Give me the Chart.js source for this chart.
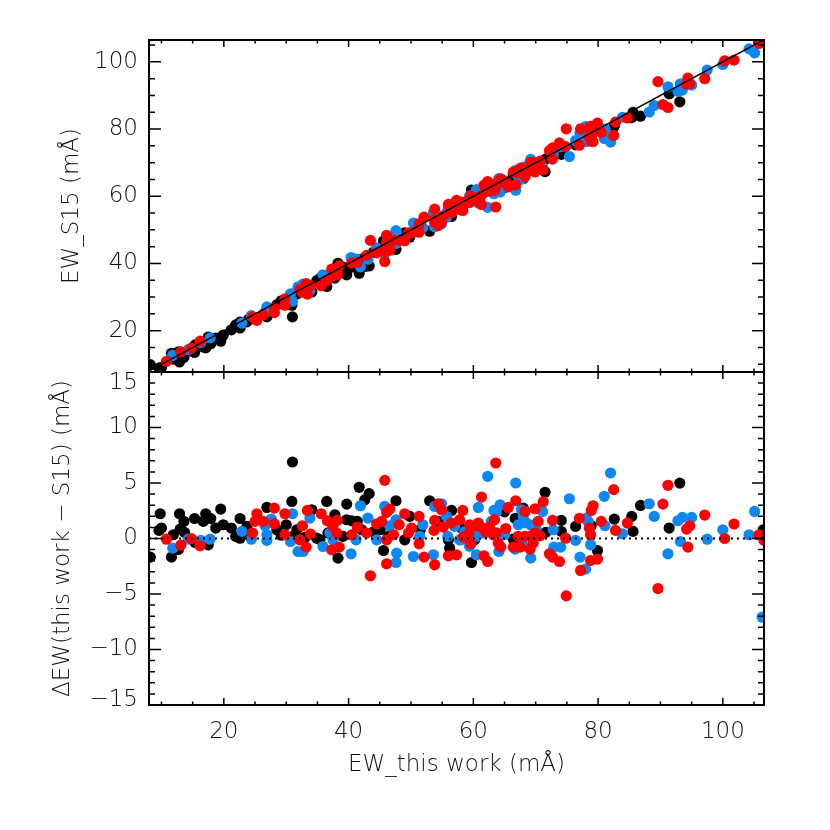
<!DOCTYPE html>
<html>
<head>
<meta charset="utf-8">
<script src="https://cdn.jsdelivr.net/npm/chart.js@4.4.1/dist/chart.umd.min.js"></script>
<style>
  html, body { margin: 0; padding: 0; background: #fff; }
  #wrap { position: relative; width: 830px; height: 830px; }
  #wrap canvas { position: absolute; left: 0; top: 0; }
</style>
</head>
<body>
<div id="wrap">
  <canvas id="top-panel" width="830" height="830"></canvas>
  <canvas id="bottom-panel" width="830" height="830"></canvas>
</div>
<script>
// ── Data: EW from this work and ΔEW (this work − S15), per sample ─────────────
const blackEW = [8.2, 9.8, 9.6, 10.0, 11.9, 11.6, 12.7, 12.9, 13.6, 13.0, 13.7, 15.3, 15.4, 17.1, 16.7, 17.9,
    17.5, 19.5, 18.7, 19.9, 21.2, 21.9, 22.6, 22.6, 23.7, 24.0, 26.9, 28.5, 29.2, 30.0, 31.0, 30.9, 31.7,
    31.1, 33.0, 34.1, 34.9, 36.5, 35.4, 36.7, 37.8, 39.7, 39.7, 38.3, 39.1, 40.5, 41.7, 43.3, 42.6, 41.4,
    42.1, 44.0, 45.1, 45.6, 46.4, 47.6, 49.0, 49.8, 51.5, 53.0, 54.4, 56.5, 56.0, 56.2, 58.1, 58.9, 59.7,
    60.2, 65.0, 66.4, 66.7, 68.0, 71.5, 71.6, 74.1, 74.1, 76.4, 78.9, 79.9, 82.6, 85.4, 85.6, 86.8, 91.4,
    93.1, 106.5];
const blackDiff = [-1.68, 2.23, 0.73, 0.94, 0.34, -1.68, -1.0, 2.23, 1.54, 0.85, 0.55, 1.8, -0.36, 2.23, 1.54, 1.8,
    -0.57, 2.65, 0.94, 1.24, 0.94, 0.19, 0.03, 1.8, 1.09, 0.55, 2.8, 0.79, 0.3, 1.24, 6.89, 3.34, 0.79,
    0.19, 0.1, 2.59, 0.03, 3.34, -0.1, 0.5, 2.14, 3.1, 1.69, -1.77, 0.19, 1.6, 4.61, 4.04, 3.49, 1.54,
    0.79, 0.6, 0.79, -1.08, 0.19, 3.4, -0.12, 1.99, 0.8, 3.4, 1.54, 2.53, -0.12, -0.87, 0.94, 0.79, -2.16,
    -0.12, 2.4, -0.06, 1.81, 2.74, 4.16, 0.55, 1.63, 0.64, 1.09, 1.15, -1.08, 1.75, 1.99, 0.64, 2.98, 0.94,
    4.99, 0.79];

const blueEW = [11.8, 14.3, 16.3, 17.8, 22.9, 24.4, 26.9, 26.9, 26.6, 27.6, 31.0, 30.7, 31.9, 32.7, 33.8, 35.9,
    37.0, 37.5, 40.4, 41.2, 41.9, 43.1, 44.5, 45.8, 46.6, 47.6, 47.6, 47.7, 50.4, 51.4, 51.9, 53.6, 53.8,
    54.9, 55.7, 55.9, 57.0, 57.8, 58.1, 58.6, 59.4, 60.5, 60.8, 60.8, 60.5, 61.3, 61.8, 62.3, 62.9, 63.3,
    63.7, 64.3, 64.1, 65.0, 66.7, 66.8, 67.2, 67.7, 68.0, 68.0, 68.5, 69.3, 70.1, 71.1, 69.2, 72.8, 72.9,
    74.0, 75.4, 76.4, 77.1, 78.1, 78.4, 78.8, 78.0, 81.0, 81.1, 82.0, 83.9, 88.2, 89.0, 91.2, 92.8, 93.2,
    93.5, 95.0, 97.5, 100.0, 104.2, 105.1, 106.3];
const blueDiff = [-0.87, -0.06, -0.17, -0.06, 0.64, -0.06, 0.34, -0.17, 1.15, 1.75, 2.23, -0.27, -1.17, -1.17, 1.84, -0.72,
    0.49, -0.12, -1.38, -0.12, 2.95, 1.84, -0.12, 2.89, 1.15, 1.69, -2.16, -1.32, -1.62, 0.2, 1.24, -1.47, 2.89,
    3.13, 1.99, 0.19, 1.1, -0.12, -0.1, 0.6, -0.7, 0.2, 1.0, 2.8, -1.47, 0.5, 0.5, 5.6, 1.55, 2.53,
    2.4, 3.04, -1.17, 0.34, -0.96, 5.0, 1.24, 2.59, 1.99, -0.66, 1.4, 1.2, 0.8, 2.44, -1.77, 0.79, -0.78,
    -0.78, 3.58, -0.17, -1.68, 1.84, 1.54, -0.57, -2.76, 3.8, 1.15, 5.9, 0.43, 3.13, 1.99, -1.38, 1.6, -0.27,
    1.9, 1.9, -0.06, 0.79, 0.34, 2.44, -7.09];

const redEW = [10.8, 13.1, 14.8, 16.2, 24.6, 25.3, 25.0, 26.3, 28.1, 28.1, 29.8, 29.8, 32.6, 32.2, 33.2, 33.9,
    33.4, 35.6, 36.6, 37.5, 38.2, 38.1, 37.3, 38.5, 40.5, 41.4, 42.9, 43.5, 44.5, 45.3, 45.8, 46.1, 46.6,
    46.1, 46.1, 47.2, 48.1, 49.0, 50.1, 49.6, 51.3, 51.3, 52.1, 53.8, 54.4, 54.9, 53.8, 53.7, 55.2, 56.0,
    57.3, 56.5, 57.8, 58.3, 58.4, 59.4, 59.3, 60.0, 60.8, 59.6, 61.3, 61.3, 61.7, 62.0, 62.3, 62.6, 63.2,
    63.4, 63.6, 63.7, 64.0, 64.4, 65.2, 65.6, 66.8, 66.4, 67.5, 67.2, 68.3, 68.3, 69.9, 71.2, 70.4, 72.7,
    69.1, 69.9, 70.7, 69.6, 69.1, 72.2, 72.7, 73.8, 74.8, 74.9, 77.0, 77.2, 78.8, 79.9, 78.9, 79.2, 78.6,
    78.8, 80.5, 82.5, 82.8, 84.7, 89.6, 90.4, 91.2, 94.2, 94.7, 94.4, 97.1, 100.3, 101.8, 105.8, 106.6];
const redDiff = [-0.06, -0.6, 0.0, -0.66, 0.49, 2.23, 1.54, 1.54, 2.74, 1.33, 2.23, 0.34, 1.15, -0.12, -0.78, 0.4,
    2.53, 2.23, 1.6, 1.09, 1.63, 0.49, -1.02, -0.78, 0.34, 1.03, 0.49, -3.36, 1.33, 1.54, 5.24, 2.35, 2.65,
    -0.12, -2.28, 0.34, 1.24, 2.23, 0.94, 0.49, 1.99, -0.48, -1.68, -2.37, 3.13, 2.59, 1.63, 0.73, 1.03, -1.56,
    -1.47, 1.39, 1.69, 2.53, 0.13, 1.24, 0.43, 1.1, 1.39, -0.48, 3.73, 1.0, -1.56, 0.6, -2.07, 1.03, 0.34,
    1.69, 6.8, 0.5, -0.42, -0.78, 0.9, 2.8, 3.4, -0.78, -0.78, 0.2, 2.44, 0.2, 2.68, 3.31, 1.54, 1.63,
    0.19, 0.49, 0.25, -0.42, -0.96, -1.38, -1.68, -2.07, 0.03, -5.17, 1.81, -2.88, -1.98, -1.86, 2.53, 2.95, 0.94,
    0.34, 1.54, 4.4, 0.73, 1.39, -4.51, 3.1, 4.79, 0.85, 1.15, -0.78, 2.11, 0.0, 1.3, 0.34, -0.17];

// S15 values follow from EW(this work) − ΔEW
const blackS15 = blackEW.map((x, i) => +(x - blackDiff[i]).toFixed(2));
const blueS15 = blueEW.map((x, i) => +(x - blueDiff[i]).toFixed(2));
const redS15 = redEW.map((x, i) => +(x - redDiff[i]).toFixed(2));

const xTicks = [20, 40, 60, 80, 100];
const topYTicks = [20, 40, 60, 80, 100];
const diffTicks = [-15, -10, -5, 0, 5, 10, 15];

// ── Layout / style ────────────────────────────────────────────────────────────
const X_MIN = 8, X_MAX = 106.6;
const TOP_MIN = 7.7, TOP_MAX = 106.5;
const AREA = { left: 149, right: 764, top: 40, mid: 372, bottom: 705 };
const FONT = { family: '"DejaVu Sans", sans-serif', size: 23, weight: 200 };
const TEXT = '#111';
const BLACK = '#000000', BLUE = '#0c88f4', RED = '#ff0000';

function pointSet(ew, vals, color, order) {
    return {
        data: ew.map((x, i) => ({ x, y: vals[i] })),
        backgroundColor: color,
        borderWidth: 0,
        pointRadius: 5.6,
        clip: 0,
        order,
    };
}

const minusSign = (v) => String(v).replace('-', '\u2212');

// Frame with inward ticks on all four sides (IDL style)
const frameTicks = {
    id: 'frameTicks',
    afterDatasetsDraw(chart, args, opts) {
        const { ctx, chartArea: a } = chart;
        const xs = chart.scales.x, ys = chart.scales.y;
        ctx.save();
        ctx.strokeStyle = '#000';
        ctx.lineWidth = 1.5;
        ctx.beginPath();
        for (let k = Math.ceil(xs.min / opts.xMinor); k * opts.xMinor <= xs.max; k++) {
            const v = k * opts.xMinor;
            const px = xs.getPixelForValue(v);
            const len = v % opts.xMajor === 0 ? opts.xLen : opts.xLen / 2;
            ctx.moveTo(px, a.top); ctx.lineTo(px, a.top + len);
            ctx.moveTo(px, a.bottom); ctx.lineTo(px, a.bottom - len);
        }
        for (let k = Math.ceil(ys.min / opts.yMinor); k * opts.yMinor <= ys.max; k++) {
            const v = k * opts.yMinor;
            const py = ys.getPixelForValue(v);
            const len = v % opts.yMajor === 0 ? opts.yLen : opts.yLen / 2;
            ctx.moveTo(a.left, py); ctx.lineTo(a.left + len, py);
            ctx.moveTo(a.right, py); ctx.lineTo(a.right - len, py);
        }
        ctx.stroke();
        ctx.lineWidth = 2;
        ctx.strokeRect(a.left, a.top, a.right - a.left, a.bottom - a.top);

        // labels sitting on the panel edges are nudged inside
        (opts.edgeLabels || []).forEach(l => {
            ctx.font = `${FONT.weight} ${FONT.size}px ${FONT.family}`;
            ctx.fillStyle = TEXT;
            ctx.textAlign = 'right';
            ctx.textBaseline = 'middle';
            ctx.fillText(minusSign(l.value), a.left - 11, ys.getPixelForValue(l.value) + l.shift);
        });
        ctx.restore();
    },
};

const baseOptions = {
    responsive: false,
    animation: false,
    events: [],
    plugins: { legend: { display: false }, tooltip: { enabled: false } },
};

// ── Top panel: EW_S15 vs EW_this work ────────────────────────────────────────
new Chart(document.getElementById('top-panel'), {
    type: 'scatter',
    data: {
        datasets: [
            {
                type: 'line',
                data: [{ x: X_MIN, y: X_MIN }, { x: X_MAX, y: X_MAX }],
                borderColor: '#000',
                borderWidth: 1.5,
                pointRadius: 0,
                clip: 0,
                order: 0,
            },
            pointSet(redEW, redS15, RED, 1),
            pointSet(blueEW, blueS15, BLUE, 2),
            pointSet(blackEW, blackS15, BLACK, 3),
        ],
    },
    options: {
        ...baseOptions,
        layout: { padding: { left: 0, right: 830 - AREA.right, top: AREA.top, bottom: 830 - AREA.mid } },
        plugins: {
            ...baseOptions.plugins,
            frameTicks: { xMinor: 5, xMajor: 20, xLen: 7, yMinor: 5, yMajor: 20, yLen: 12 },
        },
        scales: {
            x: { type: 'linear', min: X_MIN, max: X_MAX, display: false },
            y: {
                type: 'linear',
                min: TOP_MIN,
                max: TOP_MAX,
                afterFit: (s) => { s.width = AREA.left; },
                afterBuildTicks: (s) => { s.ticks = topYTicks.map(v => ({ value: v })); },
                grid: { display: false, drawTicks: false },
                border: { display: false },
                ticks: { font: FONT, color: TEXT, padding: 11 },
                title: { display: true, text: 'EW_S15 (mÅ)', font: FONT, color: TEXT, padding: { top: 58, bottom: 0 } },
            },
        },
    },
    plugins: [frameTicks],
});

// ── Bottom panel: ΔEW vs EW_this work ────────────────────────────────────────
new Chart(document.getElementById('bottom-panel'), {
    type: 'scatter',
    data: {
        datasets: [
            {
                type: 'line',
                data: [{ x: X_MIN, y: 0 }, { x: X_MAX, y: 0 }],
                borderColor: '#000',
                borderWidth: 2,
                borderDash: [2, 4],
                pointRadius: 0,
                clip: 0,
                order: 0,
            },
            pointSet(redEW, redDiff, RED, 1),
            pointSet(blueEW, blueDiff, BLUE, 2),
            pointSet(blackEW, blackDiff, BLACK, 3),
        ],
    },
    options: {
        ...baseOptions,
        layout: { padding: { left: 0, right: 830 - AREA.right, top: AREA.mid, bottom: 0 } },
        plugins: {
            ...baseOptions.plugins,
            frameTicks: {
                xMinor: 5, xMajor: 20, xLen: 7, yMinor: 1, yMajor: 5, yLen: 12,
                edgeLabels: [{ value: 15, shift: 11 }, { value: -15, shift: -5 }],
            },
        },
        scales: {
            x: {
                type: 'linear',
                min: X_MIN,
                max: X_MAX,
                afterFit: (s) => { s.height = 830 - AREA.bottom; },
                afterBuildTicks: (s) => { s.ticks = xTicks.map(v => ({ value: v })); },
                grid: { display: false, drawTicks: false },
                border: { display: false },
                ticks: { font: FONT, color: TEXT, padding: 13, maxRotation: 0 },
                title: { display: true, text: 'EW_this work (mÅ)', font: FONT, color: TEXT, padding: { top: 0, bottom: 51 } },
            },
            y: {
                type: 'linear',
                min: -15,
                max: 15,
                afterFit: (s) => { s.width = AREA.left; },
                afterBuildTicks: (s) => { s.ticks = diffTicks.map(v => ({ value: v })); },
                grid: { display: false, drawTicks: false },
                border: { display: false },
                ticks: {
                    font: FONT,
                    color: TEXT,
                    padding: 11,
                    callback: (v) => (Math.abs(v) === 15 ? '' : minusSign(v)),
                },
                title: {
                    display: true,
                    text: 'ΔEW(this work \u2212 S15) (mÅ)',
                    font: FONT,
                    color: TEXT,
                    padding: { top: 49, bottom: 0 },
                },
            },
        },
    },
    plugins: [frameTicks],
});
</script>
</body>
</html>
